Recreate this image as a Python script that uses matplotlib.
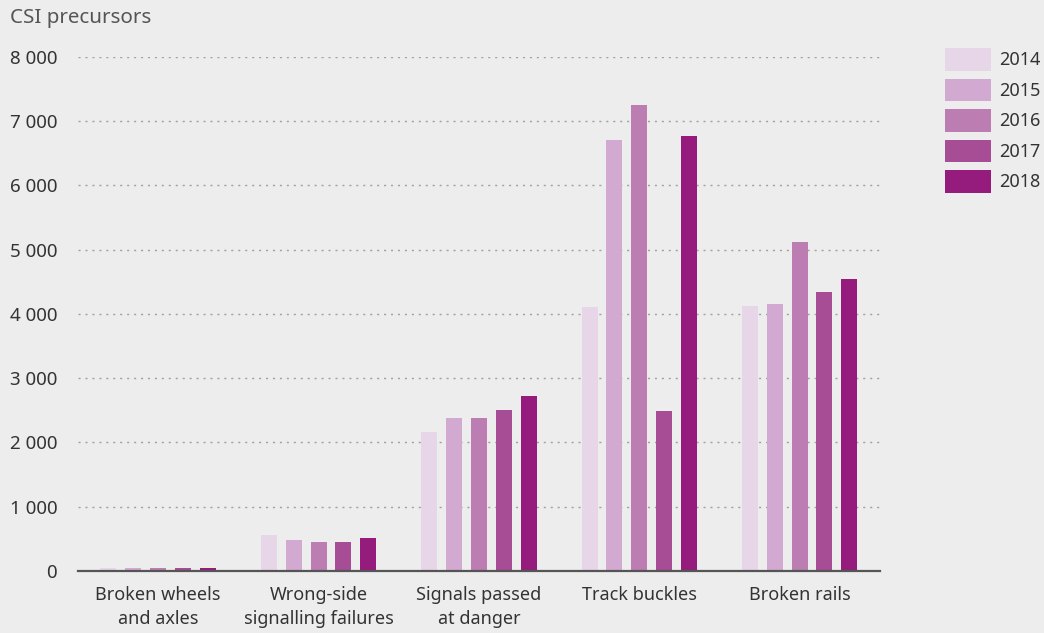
import matplotlib.pyplot as plt
from matplotlib.ticker import FuncFormatter, MultipleLocator
import numpy as np

plt.rcParams['font.family'] = ['Noto Sans', 'DejaVu Sans']

categories = ['Broken wheels\nand axles', 'Wrong-side\nsignalling failures',
              'Signals passed\nat danger', 'Track buckles', 'Broken rails']
years = ['2014', '2015', '2016', '2017', '2018']
v2014 = [40, 560, 2160, 4110, 4120]
v2015 = [40, 480, 2380, 6710, 4160]
v2016 = [40, 450, 2380, 7250, 5120]
v2017 = [40, 450, 2500, 2490, 4340]
v2018 = [40, 510, 2720, 6770, 4550]
series = [v2014, v2015, v2016, v2017, v2018]
colors = ['#E7D5E8', '#D2A9D0', '#BC7DB3', '#A64D96', '#951B7D']

bg = '#EDEDED'
fig = plt.figure(figsize=(10.44, 6.33), dpi=100, facecolor=bg)
ax = fig.add_axes([0.0747, 0.098, 0.768, 0.812], facecolor=bg)

x = np.arange(len(categories))
step = 0.155
width = 0.10
for i, (vals, c, yr) in enumerate(zip(series, colors, years)):
    ax.bar(x + (i - 2) * step, vals, width=width, color=c, label=yr, zorder=3)

ax.set_xlim(-0.5, 4.5)
ax.set_ylim(0, 8000)
ax.yaxis.set_major_locator(MultipleLocator(1000))
ax.yaxis.set_major_formatter(FuncFormatter(lambda v, p: f'{int(v):,}'.replace(',', ' ')))
ax.grid(axis='y', color='#A0A0A0', linestyle=(0, (1.5, 3.5)), linewidth=1.0, zorder=0)
ax.set_xticks(x)
ax.set_xticklabels(categories, fontsize=13, color='#333333', linespacing=1.45)
ax.tick_params(axis='y', length=0, pad=15, labelsize=13.5, labelcolor='#333333')
ax.tick_params(axis='x', length=0, pad=10.5)
for s in ['top', 'right', 'left']:
    ax.spines[s].set_visible(False)
ax.spines['bottom'].set_color('#555555')
ax.spines['bottom'].set_linewidth(1.6)
ax.spines['bottom'].set_zorder(4)

fig.text(10 / 1044, 1 - 18 / 633, 'CSI precursors', fontsize=14.8, color='#555555',
         ha='left', va='center')

fig.legend(loc='upper left', bbox_to_anchor=(945 / 1044, 1 - 48 / 633), frameon=False,
           fontsize=13, handlelength=2.55, handleheight=1.55, labelspacing=0.44,
           handletextpad=0.45, borderpad=0, borderaxespad=0, labelcolor='#333333')

fig.savefig('out.png', dpi=100, facecolor=bg)
